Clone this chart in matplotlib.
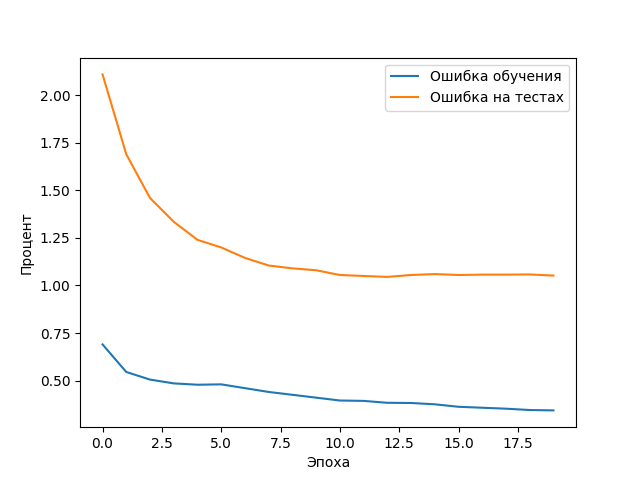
import matplotlib
matplotlib.use("Agg")
import matplotlib.pyplot as plt

epochs = list(range(20))
train_loss = [0.69, 0.545, 0.505, 0.485, 0.478, 0.48, 0.46, 0.44, 0.425, 0.41,
              0.395, 0.393, 0.383, 0.382, 0.375, 0.362, 0.357, 0.352, 0.345, 0.343]
test_loss = [2.11, 1.69, 1.46, 1.335, 1.24, 1.20, 1.145, 1.105, 1.09, 1.08,
             1.055, 1.05, 1.045, 1.055, 1.06, 1.055, 1.057, 1.057, 1.058, 1.052]

fig, ax = plt.subplots(figsize=(6.4, 4.8), dpi=100)
ax.plot(epochs, train_loss, label="Ошибка обучения")
ax.plot(epochs, test_loss, label="Ошибка на тестах")
ax.set_xlabel("Эпоха")
ax.set_ylabel("Процент")
ax.legend()

plt.savefig("out.png")
